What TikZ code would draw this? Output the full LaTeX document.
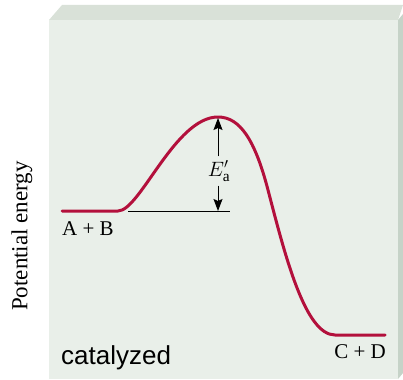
\documentclass[tikz,border=0pt]{standalone}
\usepackage{amsmath}
\usepackage{fontspec}
\setmainfont{Liberation Serif}
\setsansfont{Liberation Sans}
\usetikzlibrary{
  arrows.meta,              % 箭头样式
  calc,                     % 坐标计算
  positioning               % 节点相对定位
}
\definecolor{faceFront}{HTML}{E9EFE9}
\definecolor{faceTop}{HTML}{D9E1D8}
\definecolor{faceSide}{HTML}{C6D3C8}
\definecolor{pathRed}{HTML}{B3103C}

\begin{document}
\begin{tikzpicture}[>=Stealth, x=1pt, y=-1pt,
    species/.style={font=\fontsize{21}{24}\selectfont, inner sep=0pt},
    energy/.style={line width=3pt, pathRed, line cap=round, line join=round},
    gap/.style={-{Stealth[length=12pt, width=9pt, inset=2pt]}, line width=1pt}]
  \useasboundingbox (0, 0) rectangle (403, 379);

  % ===== 立体背景板 =====
  \fill[faceTop] (49, 20) -- (62, 5) -- (403, 5) -- (398, 20) -- cycle;
  \fill[faceSide] (398, 20) -- (403, 14) -- (403, 373) -- (398, 379) -- cycle;
  \fill[faceFront] (49, 20) rectangle (398, 379);

  % ===== 能量曲线 =====
  \coordinate (react) at (62, 211);
  \coordinate (peak) at (218, 117);
  \coordinate (prod) at (385, 335);
  \draw[energy] (react) -- (118, 211)
    .. controls (140, 211) and (175, 117) .. (peak)
    .. controls (240, 117) and (255, 140) .. (268, 190)
    .. controls (285, 255) and (305, 335) .. (335, 335)
    -- (prod);

  % 反应物能级参考线
  \coordinate (baseL) at (128, 211);
  \coordinate (baseR) at (230, 211);
  \draw[line width=1pt] (baseL) -- (baseR);

  % --- 活化能标注 ---
  \node[inner sep=0pt, font=\fontsize{22}{24}\selectfont] (ea) at (219, 171) {$E'_{\mathrm{a}}$};
  \coordinate (eaTop) at (218, 118);
  \coordinate (eaBot) at (218, 211);
  \draw[gap] (ea.north -| eaTop) ++(0, -4) -- (eaTop);
  \draw[gap] (ea.south -| eaBot) ++(0, 4) -- (eaBot);

  % ===== 文字标签 =====
  \node[species] (ab) at (88, 229) {A + B};
  \node[species] (cd) at (360, 352) {C + D};
  \node[font=\sffamily\fontsize{26}{30}\selectfont, anchor=base west, inner sep=0pt]
    (cat) at (61, 364) {catalyzed};
  \node[font=\fontsize{23}{26}\selectfont, rotate=90, inner sep=0pt]
    (ylab) at (22, 236) {Potential energy};
\end{tikzpicture}
\end{document}
